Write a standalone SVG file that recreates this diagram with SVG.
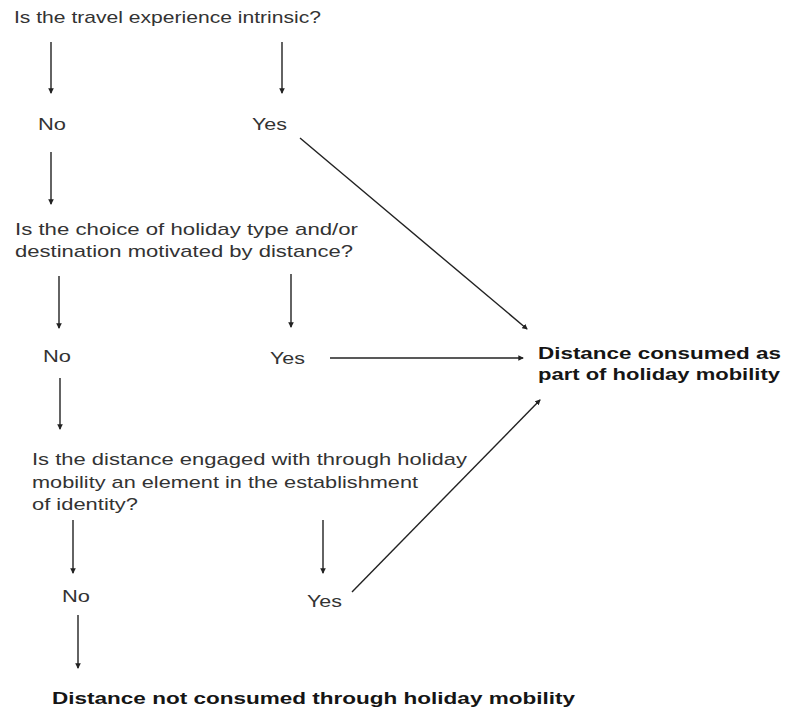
<svg xmlns="http://www.w3.org/2000/svg" width="786" height="709" viewBox="0 0 786 709">
  <defs>
    <marker id="tip" viewBox="0 0 6 6" refX="5" refY="3" markerWidth="4" markerHeight="4" orient="auto">
      <path d="M0,0 L6,3 L0,6 z" fill="#222"/>
    </marker>
    <style>
      text { font-family: "Liberation Sans", Arial, sans-serif; font-size: 17px; }
      .q, .a { fill: #333; }
      .r { font-weight: bold; fill: #151515; }
      .c { stroke: #222; stroke-width: 1.4; fill: none; marker-end: url(#tip); }
    </style>
  </defs>
  <rect width="786" height="709" fill="#fff"/>

  <g id="q1"><text class="q" x="14" y="23" textLength="307" lengthAdjust="spacingAndGlyphs">Is the travel experience intrinsic?</text></g>
  <g id="q1-no"><text class="a" x="38" y="130" textLength="28" lengthAdjust="spacingAndGlyphs">No</text></g>
  <g id="q1-yes"><text class="a" x="252" y="130" textLength="35" lengthAdjust="spacingAndGlyphs">Yes</text></g>

  <g id="q2"><text class="q" x="15" y="235" textLength="343" lengthAdjust="spacingAndGlyphs">Is the choice of holiday type and/or</text>
    <text class="q" x="15" y="257" textLength="338" lengthAdjust="spacingAndGlyphs">destination motivated by distance?</text></g>
  <g id="q2-no"><text class="a" x="43" y="362" textLength="28" lengthAdjust="spacingAndGlyphs">No</text></g>
  <g id="q2-yes"><text class="a" x="270" y="364" textLength="35" lengthAdjust="spacingAndGlyphs">Yes</text></g>

  <g id="consumed"><text class="r" x="538" y="359" textLength="243" lengthAdjust="spacingAndGlyphs">Distance consumed as</text>
    <text class="r" x="538" y="380" textLength="242" lengthAdjust="spacingAndGlyphs">part of holiday mobility</text></g>

  <g id="q3"><text class="q" x="32" y="465" textLength="435" lengthAdjust="spacingAndGlyphs">Is the distance engaged with through holiday</text>
    <text class="q" x="32" y="488" textLength="386" lengthAdjust="spacingAndGlyphs">mobility an element in the establishment</text>
    <text class="q" x="32" y="510" textLength="106" lengthAdjust="spacingAndGlyphs">of identity?</text></g>
  <g id="q3-no"><text class="a" x="62" y="602" textLength="28" lengthAdjust="spacingAndGlyphs">No</text></g>
  <g id="q3-yes"><text class="a" x="307" y="607" textLength="35" lengthAdjust="spacingAndGlyphs">Yes</text></g>

  <g id="not-consumed"><text class="r" x="52" y="704" textLength="523" lengthAdjust="spacingAndGlyphs">Distance not consumed through holiday mobility</text></g>

  <g id="connectors">
    <line class="c" x1="51" y1="42" x2="51" y2="93"/>
    <line class="c" x1="282" y1="42" x2="282" y2="93"/>
    <line class="c" x1="300" y1="138" x2="527" y2="329"/>
    <line class="c" x1="51" y1="152" x2="51" y2="204"/>
    <line class="c" x1="59" y1="276" x2="59" y2="328"/>
    <line class="c" x1="291" y1="274" x2="291" y2="327"/>
    <line class="c" x1="330" y1="358" x2="523" y2="358"/>
    <line class="c" x1="60" y1="378" x2="60" y2="429"/>
    <line class="c" x1="73" y1="520" x2="73" y2="573"/>
    <line class="c" x1="323" y1="520" x2="323" y2="573"/>
    <line class="c" x1="352" y1="592" x2="540" y2="400"/>
    <line class="c" x1="78" y1="615" x2="78" y2="668"/>
  </g>
</svg>
